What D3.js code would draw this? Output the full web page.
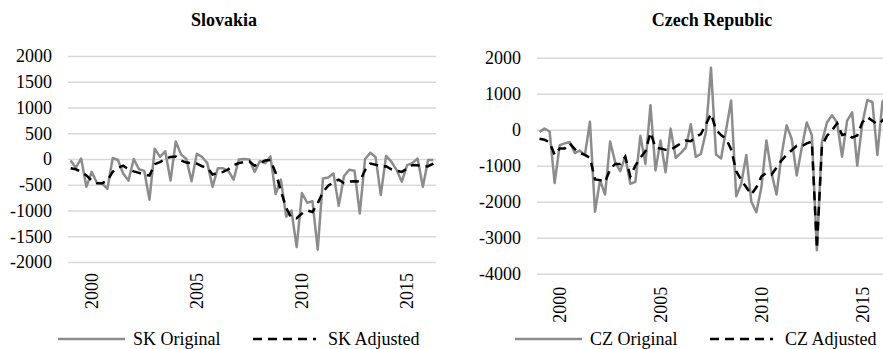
<!DOCTYPE html>
<html>
<head>
<meta charset="utf-8">
<script src="https://cdn.jsdelivr.net/npm/d3@7"></script>
<style>
  body { margin: 0; background: #fff; }
  svg text { font-family: "Liberation Serif", "Times New Roman", serif; fill: #000; }
</style>
</head>
<body>
<div id="chart"></div>
<script>
// quarters 1999Q1 .. 2016Q2
const years = [1999, 2000, 2001, 2002, 2003, 2004, 2005, 2006, 2007, 2008, 2009, 2010, 2011, 2012, 2013, 2014, 2015, 2016];
const quarters = years.flatMap(y => ['Q1', 'Q2', 'Q3', 'Q4'].map(q => y + q)).slice(0, 70);
const yearLabels = ['2000Q1', '2005Q1', '2010Q1', '2015Q1'];

const skOriginal = [-30, -170, 10, -540, -250, -460, -480, -580, 20, -20,
  -280, -420, 0, -200, -230, -790, 200, 40, 150, -420,
  340, 90, 0, -430, 100, 40, -80, -540, -180, -180,
  -230, -400, -10, 0, -10, -250, -40, -80, 50, -680,
  -400, -1120, -1000, -1710, -660, -850, -820, -1760, -380, -360,
  -280, -910, -330, -210, -230, -1060, 0, 120, 40, -700,
  60, -50, -210, -440, -120, -80, 10, -540, -20, -20];
const skAdjusted = [-180, -200, -250, -320, -420, -470, -470, -420, -250, -170,
  -130, -200, -240, -270, -300, -320, -100, -60, 0, 40,
  50, -30, -70, -80, -90, -140, -170, -300, -270, -250,
  -200, -120, -80, -60, -50, -130, -80, -30, -20, -270,
  -620, -950, -1140, -1150, -1060, -1000, -1030, -860, -640, -520,
  -450, -400, -470, -440, -430, -440, -220, -90, -110, -150,
  -140, -200, -230, -250, -190, -120, -120, -150, -140, -90];

const czOriginal = [-60, 30, -50, -1480, -430, -380, -340, -650, -580, -700,
  220, -2280, -1400, -1800, -330, -900, -1150, -750, -1500, -1450,
  -170, -950, 680, -1130, -300, -1180, 30, -780, -650, -500,
  150, -760, -670, -60, 1720, -690, -800, 0, 810, -1850,
  -1500, -700, -2000, -2290, -1600, -300, -1200, -1800, -700, 120,
  -250, -1270, -500, 200, -150, -3350, -350, 200, 400, 200,
  -750, 250, 480, -1000, 170, 820, 770, -700, 780, 900];
const czAdjusted = [-250, -280, -350, -700, -520, -520, -380, -540, -650, -700,
  -780, -1380, -1400, -1450, -1100, -950, -950, -750, -1300, -1000,
  -780, -600, -80, -500, -520, -560, -560, -470, -380, -300,
  -320, -200, -120, 150, 440, 0, -150, -250, -550, -1150,
  -1400, -1600, -1800, -1600, -1300, -1200, -1250, -1050, -850, -700,
  -570, -450, -460, -380, -330, -3300, -450, -170, -20, 180,
  -150, -110, -220, -160, 200, 350, 250, 150, 250, 400];

const skTicks = [2000, 1500, 1000, 500, 0, -500, -1000, -1500, -2000];
const czTicks = [2000, 1000, 0, -1000, -2000, -3000, -4000];

const width = 883, height = 349;
const svg = d3.select('#chart').append('svg')
  .attr('width', width)
  .attr('height', height);

function drawPanel(p) {
  const x = d3.scaleBand().domain(quarters).range([p.left, p.right]);
  const y = d3.scaleLinear().domain([p.ticks[p.ticks.length - 1], p.ticks[0]]).range([p.bottom, p.top]);
  const g = svg.append('g');

  // gridlines + y labels
  g.append('g')
    .attr('transform', `translate(${p.left},0)`)
    .call(d3.axisLeft(y).tickValues(p.ticks).tickSize(-(p.right - p.left)).tickPadding(16).tickFormat(d3.format('d')))
    .call(a => a.select('.domain').remove())
    .call(a => a.selectAll('line').attr('stroke', '#d9d9d9').attr('stroke-width', 1.5))
    .call(a => a.selectAll('text').style('font-size', '18px').attr('fill', '#000')
      .style('font-family', '"Liberation Serif", serif').text(d => d < 0 ? '-' + Math.abs(d) : d));

  // x labels (rotated years)
  g.selectAll('.yr')
    .data(yearLabels)
    .enter()
    .append('text')
    .attr('transform', d => `translate(${x(d) + x.bandwidth() / 2},${p.bottom + p.labelGap}) rotate(-90)`)
    .attr('text-anchor', 'end')
    .attr('dy', '0.35em')
    .style('font-size', '18px')
    .text(d => d.slice(0, 4));

  const line = vals => d3.line()
    .x((d, i) => x(quarters[i]) + x.bandwidth() / 2)
    .y(d => y(d))(vals);

  g.append('path')
    .attr('d', line(p.orig))
    .attr('fill', 'none')
    .attr('stroke', '#8c8c8c')
    .attr('stroke-width', 2.5)
    .attr('stroke-linejoin', 'round');

  g.append('path')
    .attr('d', line(p.adj))
    .attr('fill', 'none')
    .attr('stroke', '#000')
    .attr('stroke-width', 2.5)
    .attr('stroke-dasharray', '9,6');

  // title
  g.append('text')
    .attr('x', p.titleX)
    .attr('y', 26)
    .attr('text-anchor', 'middle')
    .style('font-size', '18px')
    .style('font-weight', 'bold')
    .text(p.title);

  // legend
  const ly = 339;
  g.append('line').attr('x1', p.leg[0]).attr('x2', p.leg[1]).attr('y1', ly).attr('y2', ly)
    .attr('stroke', '#8c8c8c').attr('stroke-width', 2.5);
  g.append('text').attr('x', p.leg[2]).attr('y', ly + 6).style('font-size', '18px').text(p.names[0]);
  g.append('line').attr('x1', p.leg[3]).attr('x2', p.leg[4]).attr('y1', ly).attr('y2', ly)
    .attr('stroke', '#000').attr('stroke-width', 2.5).attr('stroke-dasharray', '9,6');
  g.append('text').attr('x', p.leg[5]).attr('y', ly + 6).style('font-size', '18px').text(p.names[1]);
}

drawPanel({
  title: 'Slovakia', titleX: 224,
  left: 68, right: 436, top: 56, bottom: 262, labelGap: 11,
  ticks: skTicks, orig: skOriginal, adj: skAdjusted,
  names: ['SK Original', 'SK Adjusted'],
  leg: [58, 125, 133, 253, 316, 328]
});

drawPanel({
  title: 'Czech Republic', titleX: 712,
  left: 537, right: 890, top: 57.7, bottom: 273.7, labelGap: 13,
  ticks: czTicks, orig: czOriginal, adj: czAdjusted,
  names: ['CZ Original', 'CZ Adjusted'],
  leg: [515, 582, 590, 710, 773, 785]
});
</script>
</body>
</html>
